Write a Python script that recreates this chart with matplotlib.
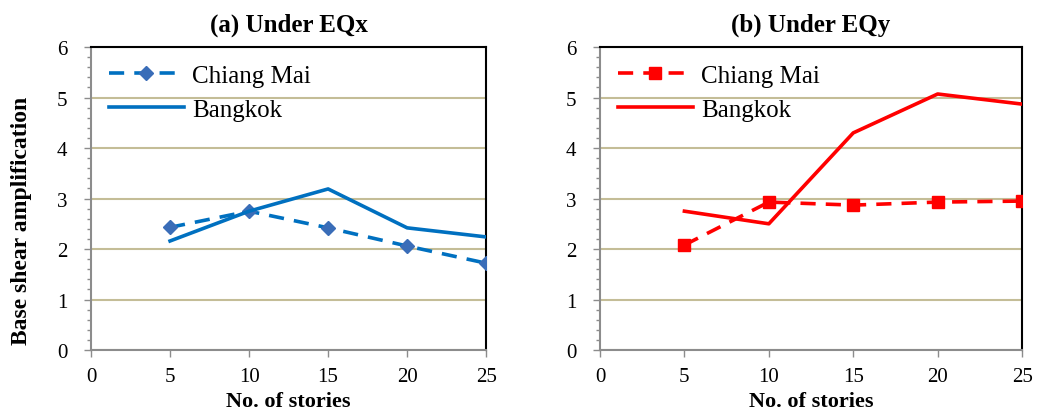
import matplotlib.pyplot as plt
from matplotlib.ticker import MultipleLocator

plt.rcParams['font.family'] = ['Liberation Serif', 'DejaVu Serif']

stories = [5, 10, 15, 20, 25]

# base shear amplification under EQx
eqx_chiang_mai = [2.43, 2.75, 2.42, 2.06, 1.72]
eqx_bangkok = [2.16, 2.75, 3.19, 2.42, 2.24]

# base shear amplification under EQy
eqy_chiang_mai = [2.08, 2.93, 2.87, 2.93, 2.95]
eqy_bangkok = [2.75, 2.50, 4.30, 5.07, 4.87]

panels = [
    ("(a) Under EQx", eqx_chiang_mai, eqx_bangkok, "#0070C0", "#3A6DB8", "D", 7),
    ("(b) Under EQy", eqy_chiang_mai, eqy_bangkok, "#FF0000", "#FF0000", "s", 8),
]

fig = plt.figure(figsize=(10.37, 4.14), dpi=100)
axes = [fig.add_axes([0.0878, 0.152, 0.381, 0.732]),
        fig.add_axes([0.5786, 0.152, 0.407, 0.732])]

grid_col = "#C4BD97"

for ax, (title, cm, bk, col, mcol, mk, ms) in zip(axes, panels):
    ax.plot(stories, cm, color=col, lw=2.6, ls=(0, (4.2, 2.8)),
            marker=mk, ms=ms, mfc=mcol, mec=mcol, label="Chiang Mai", zorder=3)
    ax.plot(stories, bk, color=col, lw=2.6, label="Bangkok", zorder=3)

    ax.set_xlim(0, 25)
    ax.set_ylim(0, 6)
    ax.xaxis.set_major_locator(MultipleLocator(5))
    ax.yaxis.set_major_locator(MultipleLocator(1))
    ax.yaxis.set_minor_locator(MultipleLocator(0.2))
    ax.grid(axis="y", color=grid_col, lw=1.5, zorder=0)
    ax.set_axisbelow(True)

    for side in ("top", "right"):
        ax.spines[side].set_color("black")
        ax.spines[side].set_linewidth(1.5)
    for side in ("left", "bottom"):
        ax.spines[side].set_color("#8C8C8C")
        ax.spines[side].set_linewidth(1.5)

    ax.tick_params(axis="x", direction="out", length=5, width=1, color="#8C8C8C",
                   labelsize=15, pad=7)
    ax.tick_params(axis="y", which="major", direction="out", length=5, width=1,
                   color="#8C8C8C", labelsize=15, pad=12)
    ax.tick_params(axis="y", which="minor", direction="out", length=3, width=1,
                   color="#8C8C8C")

    ax.set_title(title, fontsize=18, fontweight="bold", pad=12)
    ax.set_xlabel("No. of stories", fontsize=16, fontweight="bold", labelpad=4)

    ax.legend(loc="upper left", frameon=False, fontsize=18, handlelength=3.0,
              handletextpad=0.35, labelspacing=0.45, borderaxespad=0.4,
              borderpad=0.3)

axes[0].set_ylabel("Base shear amplification", fontsize=17, fontweight="bold")
axes[0].yaxis.set_label_coords(-0.15, 0.43)

fig.savefig("out.png", dpi=100)
